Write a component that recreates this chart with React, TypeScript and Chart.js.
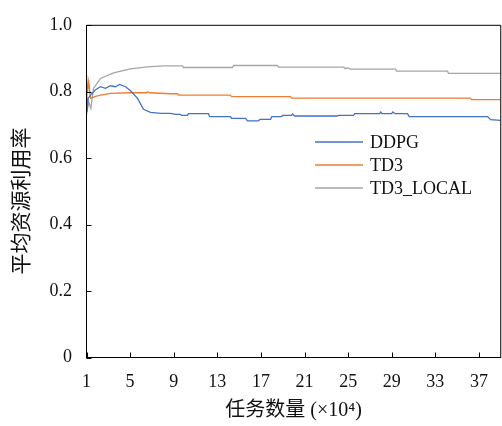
import React, { useEffect, useRef } from "react";
import { Chart, registerables } from "chart.js";

Chart.register(...registerables);

const xTickValues = [1, 5, 9, 13, 17, 21, 25, 29, 33, 37];
const yTickValues = [0, 0.2, 0.4, 0.6, 0.8, 1.0];
const seriesNames = ["DDPG", "TD3", "TD3_LOCAL"];
const seriesColors = ["#4472C4", "#ED7D31", "#A5A5A5"];
const yTitle = "平均资源利用率";
const xTitle = "任务数量 (×10⁴)";

const ddpgX = [1, 1.05, 1.15, 1.37, 1.83, 2.28, 2.74, 3.2, 3.66, 4.03, 4.58, 5.04, 5.68, 6.23, 6.87, 7.79, 8.71, 9.17, 9.62, 9.7, 10.27, 10.35, 12.19, 12.3, 14.21, 14.3, 15.59, 15.77, 16.78, 16.9, 17.88, 18.0, 18.9, 19.0, 19.8, 19.9, 20.1, 24.03, 24.1, 25.5, 25.6, 27.9, 28.0, 28.1, 29.0, 29.1, 29.3, 30.45, 30.6, 37.79, 38.06, 39];
const ddpgY = [0.85, 0.74, 0.78, 0.79, 0.806, 0.815, 0.81, 0.818, 0.815, 0.822, 0.815, 0.803, 0.78, 0.747, 0.738, 0.735, 0.735, 0.732, 0.732, 0.729, 0.729, 0.734, 0.734, 0.725, 0.725, 0.72, 0.72, 0.712, 0.712, 0.717, 0.717, 0.725, 0.725, 0.729, 0.729, 0.733, 0.727, 0.727, 0.729, 0.729, 0.734, 0.734, 0.739, 0.734, 0.734, 0.739, 0.734, 0.734, 0.725, 0.725, 0.716, 0.714];

const td3X = [1, 1.1, 1.2, 1.37, 1.83, 2.3, 3.2, 5.04, 6.5, 6.6, 6.8, 8.7, 9.35, 9.45, 14.21, 14.3, 19.72, 19.8, 36.23, 36.3, 39];
const td3Y = [0.84, 0.8, 0.83, 0.78, 0.786, 0.79, 0.795, 0.797, 0.797, 0.8, 0.797, 0.794, 0.794, 0.79, 0.79, 0.785, 0.785, 0.781, 0.781, 0.776, 0.776];

const localX = [1, 1.2, 1.4, 1.64, 2.28, 3.48, 5.04, 6.6, 8.06, 9.81, 9.9, 14.39, 14.5, 18.52, 18.6, 24.58, 24.7, 25.0, 25.2, 29.35, 29.45, 34.12, 34.2, 39];
const localY = [0.73, 0.77, 0.75, 0.81, 0.84, 0.857, 0.869, 0.875, 0.878, 0.878, 0.873, 0.873, 0.879, 0.879, 0.874, 0.874, 0.87, 0.872, 0.868, 0.868, 0.862, 0.862, 0.855, 0.855];

const FONT = "'Liberation Serif', 'Noto Sans CJK SC', serif";

const framePlugin = {
  id: "frameAndLegend",
  afterDraw(chart: any) {
    const { ctx, chartArea } = chart;
    const xs = chart.scales.x;
    const ys = chart.scales.y;
    ctx.save();
    ctx.strokeStyle = "#000";
    ctx.lineWidth = 1;
    ctx.beginPath();
    ctx.rect(chartArea.left, chartArea.top, chartArea.right - chartArea.left, chartArea.bottom - chartArea.top);
    ctx.stroke();
    ctx.beginPath();
    xTickValues.forEach((v) => {
      const px = Math.round(xs.getPixelForValue(v)) + 0.5;
      ctx.moveTo(px, chartArea.bottom);
      ctx.lineTo(px, chartArea.bottom - 5);
    });
    yTickValues.forEach((v) => {
      const py = Math.round(ys.getPixelForValue(v)) + 0.5;
      ctx.moveTo(chartArea.left, py);
      ctx.lineTo(chartArea.left + 5, py);
    });
    ctx.stroke();
    // y axis title
    ctx.save();
    ctx.translate(22, 201);
    ctx.rotate(-Math.PI / 2);
    ctx.font = `21px ${FONT}`;
    ctx.fillStyle = "#111";
    ctx.textAlign = "center";
    ctx.textBaseline = "middle";
    ctx.fillText(yTitle, 0, 0);
    ctx.restore();
    // legend
    const lx = 315;
    const ly = 142;
    ctx.font = `18px ${FONT}`;
    ctx.textBaseline = "middle";
    ctx.textAlign = "left";
    seriesNames.forEach((name, i) => {
      const y = ly + i * 23;
      ctx.strokeStyle = seriesColors[i];
      ctx.lineWidth = 1.3;
      ctx.beginPath();
      ctx.moveTo(lx, y);
      ctx.lineTo(lx + 48, y);
      ctx.stroke();
      ctx.fillStyle = "#111";
      ctx.fillText(name, lx + 55, y + 1);
    });
    ctx.restore();
  },
};

export default function App() {
  const ref = useRef<HTMLCanvasElement | null>(null);
  useEffect(() => {
    document.body.style.margin = "0";
    const toPts = (xs: number[], ys: number[]) => xs.map((x, i) => ({ x, y: ys[i] }));
    const data = [toPts(ddpgX, ddpgY), toPts(td3X, td3Y), toPts(localX, localY)];
    const chart = new Chart(ref.current as HTMLCanvasElement, {
      type: "line",
      data: {
        datasets: seriesNames.map((name, i) => ({
          label: name,
          data: data[i],
          borderColor: seriesColors[i],
          backgroundColor: seriesColors[i],
          borderWidth: 1.3,
          pointRadius: 0,
          tension: 0,
          fill: false,
        })),
      },
      options: {
        animation: false,
        responsive: false,
        layout: { padding: { top: 19, right: 1, left: 0, bottom: 0 } },
        plugins: { legend: { display: false }, tooltip: { enabled: false } },
        scales: {
          x: {
            type: "linear",
            min: 1,
            max: 39,
            grid: { display: false, drawTicks: false },
            border: { display: true, color: "#000", width: 1 },
            afterBuildTicks: (axis: any) => {
              axis.ticks = xTickValues.map((v) => ({ value: v }));
            },
            afterFit: (axis: any) => {
              axis.height = 68.5;
            },
            ticks: {
              autoSkip: false,
              maxRotation: 0,
              padding: 14,
              color: "#111",
              font: { family: FONT, size: 18 },
            },
            title: {
              display: true,
              text: xTitle,
              color: "#111",
              font: { family: FONT, size: 20 },
              padding: { top: 0, bottom: 3 },
            },
          },
          y: {
            type: "linear",
            min: 0,
            max: 1,
            grid: { display: false, drawTicks: false },
            border: { display: true, color: "#000", width: 1 },
            afterBuildTicks: (axis: any) => {
              axis.ticks = yTickValues.map((v) => ({ value: v }));
            },
            afterFit: (axis: any) => {
              axis.width = 86.5;
            },
            ticks: {
              padding: 14.5,
              color: "#111",
              font: { family: FONT, size: 18 },
              callback: (v: any) => (Number(v) === 0 ? "0" : Number(v).toFixed(1)),
            },
            title: { display: false },
          },
        },
      },
      plugins: [framePlugin],
    });
    return () => chart.destroy();
  }, []);
  return (
    <div style={{ width: 502, height: 426 }}>
      <canvas ref={ref} width={502} height={426} />
    </div>
  );
}
